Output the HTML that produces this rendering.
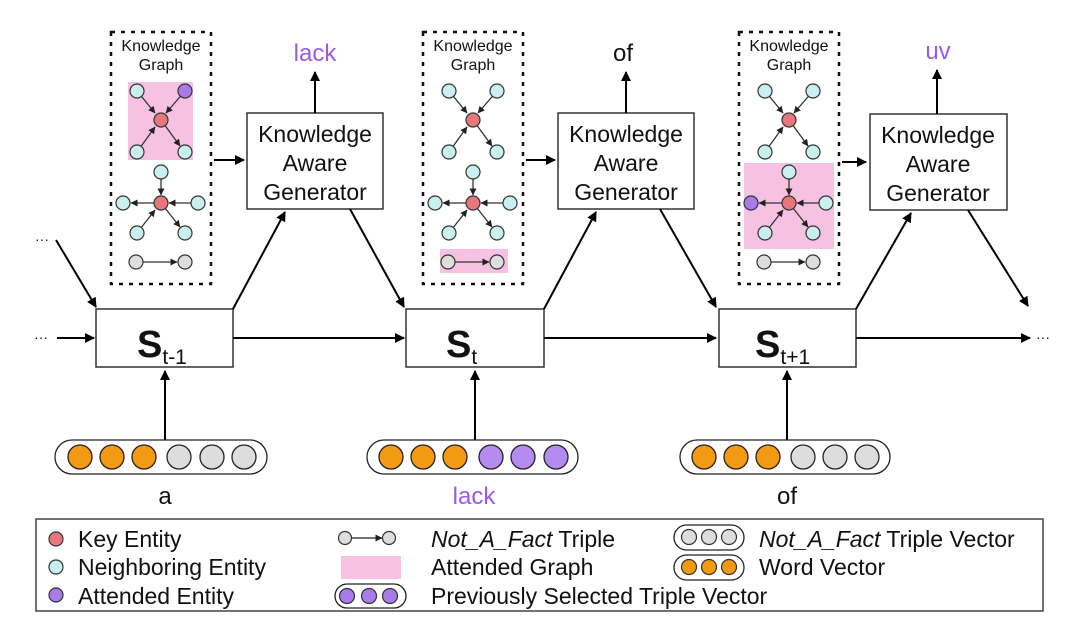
<!DOCTYPE html>
<html><head><meta charset="utf-8"><style>
html,body{margin:0;padding:0;background:#fff}
svg{display:block}
text{font-family:"Liberation Sans",sans-serif}
</style></head><body>
<svg width="1080" height="644" viewBox="0 0 1080 644" xmlns="http://www.w3.org/2000/svg">
<defs>
<marker id="ah" markerWidth="10" markerHeight="10" refX="9" refY="5" orient="auto" markerUnits="userSpaceOnUse"><path d="M0,0 L10,5 L0,10 z" fill="#000"/></marker>
<marker id="sa" markerWidth="7" markerHeight="7" refX="6.5" refY="3.5" orient="auto" markerUnits="userSpaceOnUse"><path d="M0,0 L7,3.5 L0,7 z" fill="#222"/></marker>
<g id="star1">
<line x1="137" y1="91" x2="155" y2="113" stroke="#333" stroke-width="1.3" marker-end="url(#sa)"/>
<line x1="185" y1="91" x2="166" y2="113" stroke="#333" stroke-width="1.3" marker-end="url(#sa)"/>
<line x1="137" y1="152" x2="155" y2="127" stroke="#333" stroke-width="1.3" marker-end="url(#sa)"/>
<line x1="161" y1="120" x2="180" y2="146" stroke="#333" stroke-width="1.3" marker-end="url(#sa)"/>
</g>
<g id="star2">
<line x1="161" y1="172" x2="161" y2="195" stroke="#333" stroke-width="1.3" marker-end="url(#sa)"/>
<line x1="161" y1="203" x2="131" y2="203" stroke="#333" stroke-width="1.3" marker-end="url(#sa)"/>
<line x1="198" y1="203" x2="169" y2="203" stroke="#333" stroke-width="1.3" marker-end="url(#sa)"/>
<line x1="137" y1="233" x2="155" y2="210" stroke="#333" stroke-width="1.3" marker-end="url(#sa)"/>
<line x1="161" y1="203" x2="180" y2="227" stroke="#333" stroke-width="1.3" marker-end="url(#sa)"/>
<line x1="136" y1="262" x2="177" y2="262" stroke="#333" stroke-width="1.3" marker-end="url(#sa)"/>
</g>
</defs>

<g fill="none" stroke="#111" stroke-width="2.5" stroke-dasharray="4,6">
<rect x="111" y="32" width="100" height="252"/>
<rect x="423" y="32" width="100" height="252"/>
<rect x="739" y="32" width="100" height="252"/>
</g>
<rect x="128" y="82" width="65" height="78" fill="#f7c2e2"/>
<rect x="440" y="249" width="68" height="24" fill="#f7c2e2"/>
<rect x="744" y="163" width="90" height="86" fill="#f7c2e2"/>

<g font-size="16" text-anchor="middle" fill="#111">
<text x="161" y="51">Knowledge</text><text x="161" y="70">Graph</text>
<text x="473" y="51">Knowledge</text><text x="473" y="70">Graph</text>
<text x="789" y="51">Knowledge</text><text x="789" y="70">Graph</text>
</g>

<g>
<use href="#star1"/><use href="#star2"/>
<g stroke="#333" stroke-width="1.2">
<circle cx="137" cy="91" r="7" fill="#c9f0ee"/><circle cx="185" cy="91" r="7" fill="#a77be8"/>
<circle cx="137" cy="152" r="7" fill="#c9f0ee"/><circle cx="185" cy="152" r="7" fill="#c9f0ee"/>
<circle cx="161" cy="120" r="7" fill="#e8777d"/>
<circle cx="161" cy="172" r="7" fill="#c9f0ee"/><circle cx="123" cy="203" r="7" fill="#c9f0ee"/>
<circle cx="198" cy="203" r="7" fill="#c9f0ee"/><circle cx="137" cy="233" r="7" fill="#c9f0ee"/>
<circle cx="185" cy="233" r="7" fill="#c9f0ee"/><circle cx="161" cy="203" r="7" fill="#e8777d"/>
<circle cx="136" cy="262" r="7" fill="#ddd"/><circle cx="185" cy="262" r="7" fill="#ddd"/>
</g></g>
<g transform="translate(312,0)">
<use href="#star1"/><use href="#star2"/>
<g stroke="#333" stroke-width="1.2">
<circle cx="137" cy="91" r="7" fill="#c9f0ee"/><circle cx="185" cy="91" r="7" fill="#c9f0ee"/>
<circle cx="137" cy="152" r="7" fill="#c9f0ee"/><circle cx="185" cy="152" r="7" fill="#c9f0ee"/>
<circle cx="161" cy="120" r="7" fill="#e8777d"/>
<circle cx="161" cy="172" r="7" fill="#c9f0ee"/><circle cx="123" cy="203" r="7" fill="#c9f0ee"/>
<circle cx="198" cy="203" r="7" fill="#c9f0ee"/><circle cx="137" cy="233" r="7" fill="#c9f0ee"/>
<circle cx="185" cy="233" r="7" fill="#c9f0ee"/><circle cx="161" cy="203" r="7" fill="#e8777d"/>
<circle cx="136" cy="262" r="7" fill="#ddd"/><circle cx="185" cy="262" r="7" fill="#ddd"/>
</g></g>
<g transform="translate(628,0)">
<use href="#star1"/><use href="#star2"/>
<g stroke="#333" stroke-width="1.2">
<circle cx="137" cy="91" r="7" fill="#c9f0ee"/><circle cx="185" cy="91" r="7" fill="#c9f0ee"/>
<circle cx="137" cy="152" r="7" fill="#c9f0ee"/><circle cx="185" cy="152" r="7" fill="#c9f0ee"/>
<circle cx="161" cy="120" r="7" fill="#e8777d"/>
<circle cx="161" cy="172" r="7" fill="#c9f0ee"/><circle cx="123" cy="203" r="7" fill="#a77be8"/>
<circle cx="198" cy="203" r="7" fill="#c9f0ee"/><circle cx="137" cy="233" r="7" fill="#c9f0ee"/>
<circle cx="185" cy="233" r="7" fill="#c9f0ee"/><circle cx="161" cy="203" r="7" fill="#e8777d"/>
<circle cx="136" cy="262" r="7" fill="#ddd"/><circle cx="185" cy="262" r="7" fill="#ddd"/>
</g></g>

<g fill="#fff" stroke="#333" stroke-width="1.5">
<rect x="247" y="113" width="136" height="96"/>
<rect x="558" y="113" width="136" height="96"/>
<rect x="870" y="114" width="137" height="96"/>
</g>
<g font-size="23" text-anchor="middle" fill="#111">
<text x="315" y="142">Knowledge</text><text x="315" y="171">Aware</text><text x="315" y="200">Generator</text>
<text x="626" y="142">Knowledge</text><text x="626" y="171">Aware</text><text x="626" y="200">Generator</text>
<text x="938" y="143">Knowledge</text><text x="938" y="172">Aware</text><text x="938" y="201">Generator</text>
</g>
<g font-size="24" text-anchor="middle">
<text x="315" y="61" fill="#9b59e6">lack</text>
<text x="623" y="61" fill="#111">of</text>
<text x="938" y="59" fill="#9b59e6">uv</text>
</g>

<g fill="#fff" stroke="#333" stroke-width="1.5">
<rect x="96" y="309" width="137" height="58"/>
<rect x="406" y="309" width="138" height="58"/>
<rect x="719" y="309" width="137" height="58"/>
</g>
<g fill="#111">
<text x="137" y="357" font-size="38" font-weight="bold">S<tspan font-size="21" font-weight="normal" dy="7">t-1</tspan></text>
<text x="446" y="357" font-size="38" font-weight="bold">S<tspan font-size="21" font-weight="normal" dy="7">t</tspan></text>
<text x="755" y="357" font-size="38" font-weight="bold">S<tspan font-size="21" font-weight="normal" dy="7">t+1</tspan></text>
</g>

<g stroke="#000" stroke-width="2" fill="none" marker-end="url(#ah)">
<line x1="315" y1="113" x2="315" y2="72"/>
<line x1="626" y1="113" x2="626" y2="72"/>
<line x1="937" y1="114" x2="937" y2="70"/>
<line x1="214" y1="160" x2="244" y2="160"/>
<line x1="526" y1="160" x2="555" y2="160"/>
<line x1="842" y1="162" x2="866" y2="162"/>
<line x1="56" y1="240" x2="96" y2="307"/>
<line x1="57" y1="338" x2="94" y2="338"/>
<line x1="233" y1="309" x2="285" y2="212"/>
<line x1="350" y1="209" x2="404" y2="307"/>
<line x1="233" y1="338" x2="404" y2="338"/>
<line x1="544" y1="309" x2="596" y2="212"/>
<line x1="660" y1="209" x2="716" y2="307"/>
<line x1="544" y1="338" x2="716" y2="338"/>
<line x1="856" y1="309" x2="911" y2="213"/>
<line x1="968" y1="210" x2="1028" y2="306"/>
<line x1="856" y1="338" x2="1030" y2="338"/>
<line x1="165" y1="440" x2="165" y2="371"/>
<line x1="475" y1="440" x2="475" y2="371"/>
<line x1="787" y1="440" x2="787" y2="371"/>
</g>
<g font-size="14" fill="#111">
<text x="35" y="244">···</text><text x="34" y="342">···</text><text x="1036" y="342">···</text>
</g>

<g stroke="#222" stroke-width="1.3">
<rect x="55" y="440" width="212" height="34" rx="17" fill="#fff"/>
<circle cx="80" cy="457" r="12" fill="#f39a12"/><circle cx="112" cy="457" r="12" fill="#f39a12"/><circle cx="144" cy="457" r="12" fill="#f39a12"/>
<circle cx="179" cy="457" r="12" fill="#ddd"/><circle cx="212" cy="457" r="12" fill="#ddd"/><circle cx="244" cy="457" r="12" fill="#ddd"/>
<rect x="367" y="440" width="211" height="34" rx="17" fill="#fff"/>
<circle cx="391" cy="457" r="12" fill="#f39a12"/><circle cx="423" cy="457" r="12" fill="#f39a12"/><circle cx="455" cy="457" r="12" fill="#f39a12"/>
<circle cx="491" cy="457" r="12" fill="#b48cf0"/><circle cx="523" cy="457" r="12" fill="#b48cf0"/><circle cx="556" cy="457" r="12" fill="#b48cf0"/>
<rect x="680" y="440" width="210" height="34" rx="17" fill="#fff"/>
<circle cx="704" cy="457" r="12" fill="#f39a12"/><circle cx="736" cy="457" r="12" fill="#f39a12"/><circle cx="768" cy="457" r="12" fill="#f39a12"/>
<circle cx="803" cy="457" r="12" fill="#ddd"/><circle cx="835" cy="457" r="12" fill="#ddd"/><circle cx="867" cy="457" r="12" fill="#ddd"/>
</g>
<g font-size="24" text-anchor="middle">
<text x="165" y="504" fill="#111">a</text>
<text x="474" y="504" fill="#9b59e6">lack</text>
<text x="787" y="504" fill="#111">of</text>
</g>

<rect x="36" y="519" width="1007" height="92" fill="#fff" stroke="#444" stroke-width="1.5"/>
<g stroke="#333" stroke-width="1.2">
<circle cx="56" cy="539" r="7" fill="#e8777d"/>
<circle cx="56" cy="567" r="7" fill="#c9f0ee"/>
<circle cx="56" cy="595" r="7" fill="#a77be8"/>
</g>
<g font-size="23" fill="#111">
<text x="78" y="547">Key Entity</text>
<text x="78" y="575">Neighboring Entity</text>
<text x="78" y="604">Attended Entity</text>
</g>
<line x1="345" y1="538" x2="382" y2="538" stroke="#222" stroke-width="1.3" marker-end="url(#sa)"/>
<g stroke="#333" stroke-width="1.2">
<circle cx="345" cy="538" r="6.5" fill="#ddd"/><circle cx="389" cy="538" r="6.5" fill="#ddd"/>
</g>
<rect x="341" y="556" width="60" height="23" fill="#f7c2e2"/>
<rect x="335" y="584" width="71" height="24" rx="12" fill="#fff" stroke="#222" stroke-width="1.3"/>
<g stroke="#333" stroke-width="1.2" fill="#a77be8">
<circle cx="347" cy="596" r="7.5"/><circle cx="369" cy="596" r="7.5"/><circle cx="390" cy="596" r="7.5"/>
</g>
<g font-size="23" fill="#111">
<text x="431" y="547"><tspan font-style="italic">Not_A_Fact</tspan> Triple</text>
<text x="431" y="575">Attended Graph</text>
<text x="431" y="604">Previously Selected Triple Vector</text>
</g>
<rect x="674" y="525" width="70" height="25" rx="12.5" fill="#fff" stroke="#222" stroke-width="1.3"/>
<g stroke="#333" stroke-width="1.2" fill="#ddd">
<circle cx="689" cy="537" r="7.5"/><circle cx="709" cy="537" r="7.5"/><circle cx="729" cy="537" r="7.5"/>
</g>
<rect x="674" y="555" width="70" height="25" rx="12.5" fill="#fff" stroke="#222" stroke-width="1.3"/>
<g stroke="#333" stroke-width="1.2" fill="#f39a12">
<circle cx="689" cy="567" r="7.5"/><circle cx="709" cy="567" r="7.5"/><circle cx="729" cy="567" r="7.5"/>
</g>
<g font-size="23" fill="#111">
<text x="759" y="547"><tspan font-style="italic">Not_A_Fact</tspan> Triple Vector</text>
<text x="759" y="575">Word Vector</text>
</g>
</svg>
</body></html>
